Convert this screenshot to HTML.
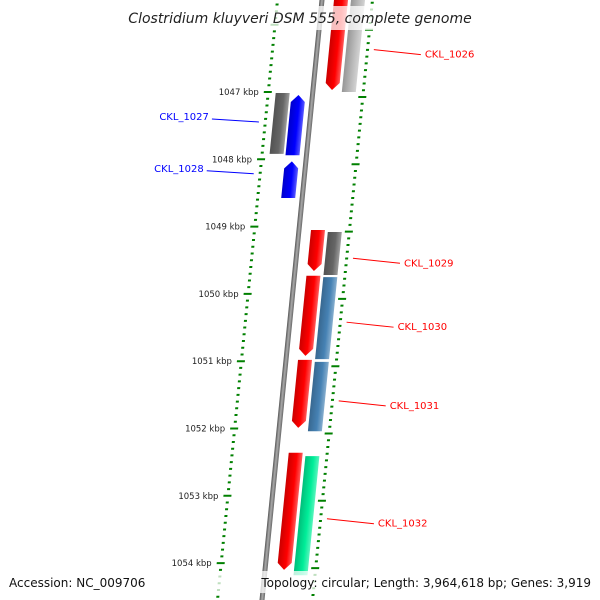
<!DOCTYPE html>
<html><head><meta charset="utf-8"><style>
html,body{margin:0;padding:0;background:#fff;}
svg{display:block;font-family:"DejaVu Sans","Liberation Sans",sans-serif;}
</style></head><body>
<svg id="chart" width="600" height="600" viewBox="0 0 600 600" xmlns="http://www.w3.org/2000/svg">
<defs>
<linearGradient id="bb" x1="0" x2="1" y1="0" y2="0"><stop offset="0" stop-color="#555"/><stop offset="0.5" stop-color="#aaa"/><stop offset="1" stop-color="#666"/></linearGradient>
</defs>
<g id="skewed" transform="skewX(-5.71)"></g>
<g id="labels"></g>
</svg>
<script>
const kbpTicks = [1046,1047,1048,1049,1050,1051,1052,1053,1054,1055];
const geneNames = ["CKL_1026","CKL_1026b","CKL_1027","CKL_1027b","CKL_1028","CKL_1029","CKL_1029b","CKL_1030","CKL_1030b","CKL_1031","CKL_1031b","CKL_1032","CKL_1032b"];
const geneStart = [1045.5,1045.5,1047.015,1047.045,1048.03,1049.05,1049.08,1049.73,1049.75,1050.98,1051.01,1052.36,1052.41];
const geneEnd   = [1046.97,1047.0,1047.92,1047.94,1048.575,1049.66,1049.72,1050.92,1050.97,1051.99,1052.04,1054.1,1054.18];
const geneTrack = ["ri","ro","lo","li","li","ri","ro","ri","ro","ri","ro","ri","ro"];
const geneColor = ["#ff0000","#bbbbbb","#666666","#0000ff","#0000ff","#ff0000","#666666","#ff0000","#4682b4","#ff0000","#4682b4","#ff0000","#00ee99"];
const geneArrow = ["down","none","none","up","up","down","none","down","none","down","none","down","none"];
const labelNames = ["CKL_1026","CKL_1027","CKL_1028","CKL_1029","CKL_1030","CKL_1031","CKL_1032"];
const labelKbp = [1046.4,1047.43,1048.2,1049.5,1050.45,1051.62,1053.37];
const labelSide = ["right","left","left","right","right","right","right"];
const labelColor = ["#ff0000","#0000ff","#0000ff","#ff0000","#ff0000","#ff0000","#ff0000"];

const NS="http://www.w3.org/2000/svg";
const Y0=92, PX=67.3;
function yOf(k){return Y0+(k-1047)*PX;}
function skewX(x,y){return x-0.1*y;}
const trackX={lo:285,li:301,ri:334,ro:351};
const TW=14;
const sk=document.getElementById('skewed');
const lb=document.getElementById('labels');
function mk(tag,attrs,parent){const e=document.createElementNS(NS,tag);for(const k in attrs)e.setAttribute(k,attrs[k]);parent.appendChild(e);return e;}
function shade(c,f){const n=parseInt(c.slice(1),16);let r=n>>16,g=(n>>8)&255,b=n&255;const m=v=>Math.max(0,Math.min(255,Math.round(f>1?v+(255-v)*(f-1):v*f)));return `rgb(${m(r)},${m(g)},${m(b)})`;}
const defs=document.querySelector('defs');

// backbone
let bb=mk('rect',{x:319.5,y:-10,width:5,height:620,fill:'url(#bb)'},sk);



// ticks
for(let k=1045.6;k<=1055.6;k+=0.1){
  const kk=Math.round(k*10)/10;
  const major=Math.abs(kk-Math.round(kk))<0.01;
  const yl=yOf(kk);
  if(yl<-5||yl>605)continue;
  let t=mk('rect',{x:major?273:276,y:yl-1,width:major?8:3,height:2,fill:'#008000'},sk);
  
  
  const yr=yl+5;
  let t2=mk('rect',{x:major?368:371,y:yr-1,width:major?8:3,height:2,fill:'#008000'},sk);
  
  
}

// genes
geneNames.forEach((n,i)=>{
  const x=trackX[geneTrack[i]], y1=yOf(geneStart[i]), y2=yOf(geneEnd[i]), c=geneColor[i];
  const gid='g'+i;
  const lg=mk('linearGradient',{id:gid,x1:0,x2:1,y1:0,y2:0},defs);
  mk('stop',{offset:0,'stop-color':shade(c,0.8)},lg);
  mk('stop',{offset:0.6,'stop-color':c},lg);
  mk('stop',{offset:1,'stop-color':shade(c,1.35)},lg);
  let d;
  const a=7;
  if(geneArrow[i]==='down') d=`M${x},${y1}L${x+TW},${y1}L${x+TW},${y2-a}L${x+TW/2},${y2}L${x},${y2-a}Z`;
  else if(geneArrow[i]==='up') d=`M${x},${y1+a}L${x+TW/2},${y1}L${x+TW},${y1+a}L${x+TW},${y2}L${x},${y2}Z`;
  else d=`M${x},${y1}L${x+TW},${y1}L${x+TW},${y2}L${x},${y2}Z`;
  let p=mk('path',{d:d,fill:`url(#${gid})`},sk);
  
  
});

// kbp labels
kbpTicks.forEach(k=>{
  const y=yOf(k);
  if(y<40||y>580)return;
  const xr=skewX(273,y)-5;
  let t=mk('text',{x:xr,y:y+3,'text-anchor':'end','font-size':8.5,fill:'#222'},lb);
  t.textContent=k+' kbp';
  
  
});

// gene labels
labelNames.forEach((n,i)=>{
  const y=yOf(labelKbp[i]);
  let l,t;
  if(labelSide[i]==='right'){
    const x1=skewX(379,y);
    l=mk('line',{x1:x1,y1:y-2,x2:x1+47,y2:y+3,stroke:labelColor[i],'stroke-width':1},lb);
    t=mk('text',{x:x1+51,y:y+6,'font-size':10,fill:labelColor[i]},lb);
  }else{
    const x2=skewX(271,y);
    l=mk('line',{x1:x2-47,y1:y-2,x2:x2,y2:y+1,stroke:labelColor[i],'stroke-width':1},lb);
    t=mk('text',{x:x2-50,y:y-1,'text-anchor':'end','font-size':10,fill:labelColor[i]},lb);
  }
  t.textContent=n;
  
  
  
  
});

// title and footer
let bg1=mk('rect',{x:0,y:6,width:600,height:24,fill:'rgba(255,255,255,0.75)'},lb);


let ti=mk('text',{x:300,y:23,'text-anchor':'middle','font-size':14,'font-style':'italic',fill:'#222'},lb);
ti.textContent='Clostridium kluyveri DSM 555, complete genome';


let bg2=mk('rect',{x:0,y:571,width:600,height:22,fill:'rgba(255,255,255,0.75)'},lb);


let f1=mk('text',{x:9,y:587,'font-size':12,fill:'#111'},lb);
f1.textContent='Accession: NC_009706';


let f2=mk('text',{x:591,y:587,'text-anchor':'end','font-size':12,fill:'#111'},lb);
f2.textContent='Topology: circular; Length: 3,964,618 bp; Genes: 3,919';


</script>
</body></html>
